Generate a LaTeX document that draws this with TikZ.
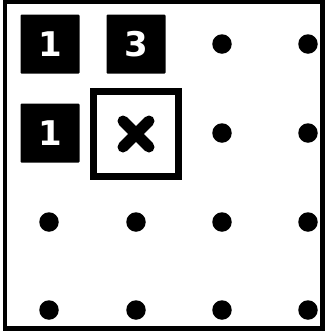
\documentclass[tikz,border=0pt]{standalone}
\usepackage{fontspec}
\setmainfont{DejaVu Sans}
\usetikzlibrary{positioning}
\tikzset{
  clue/.style={rectangle,rounded corners=1pt,fill=black,minimum size=59pt,
    inner sep=0pt,text=white,font=\fontsize{34}{34}\selectfont\bfseries},
  gridpt/.style={circle,fill=black,minimum size=19.5pt,inner sep=0pt},
  markbox/.style={rectangle,draw=black,line width=7pt,minimum size=85pt,
    inner sep=0pt},
  cross/.style={line width=11pt,line cap=round},
}

\begin{document}
\begin{tikzpicture}[x=1pt,y=-1pt]
  \useasboundingbox (0,0) rectangle (325,333);
  % outer frame
  \draw[line width=4.5pt] (5,2.2) rectangle (322.5,328.5);

  % clue squares
  \node[clue] (c11) at (50,44) {1};
  \node[clue] (c12) at (136,44) {3};
  \node[clue] (c21) at (50,133) {1};
  \node[markbox] (m22) at (136,134) {};
  \draw[cross] ([shift={(-13,-13)}]m22.center) -- ([shift={(13,13)}]m22.center);
  \draw[cross] ([shift={(-13,13)}]m22.center) -- ([shift={(13,-13)}]m22.center);

  % remaining grid points
  \foreach \c/\x in {1/49,2/136,3/222,4/308}
    \foreach \r/\y in {1/44,2/133,3/222,4/310}{
      \pgfmathtruncatemacro{\skip}{(\c<3)&&(\r<3)}
      \ifnum\skip=0
        \node[gridpt] (p\r\c) at (\x,\y) {};
      \fi
    }
\end{tikzpicture}
\end{document}
